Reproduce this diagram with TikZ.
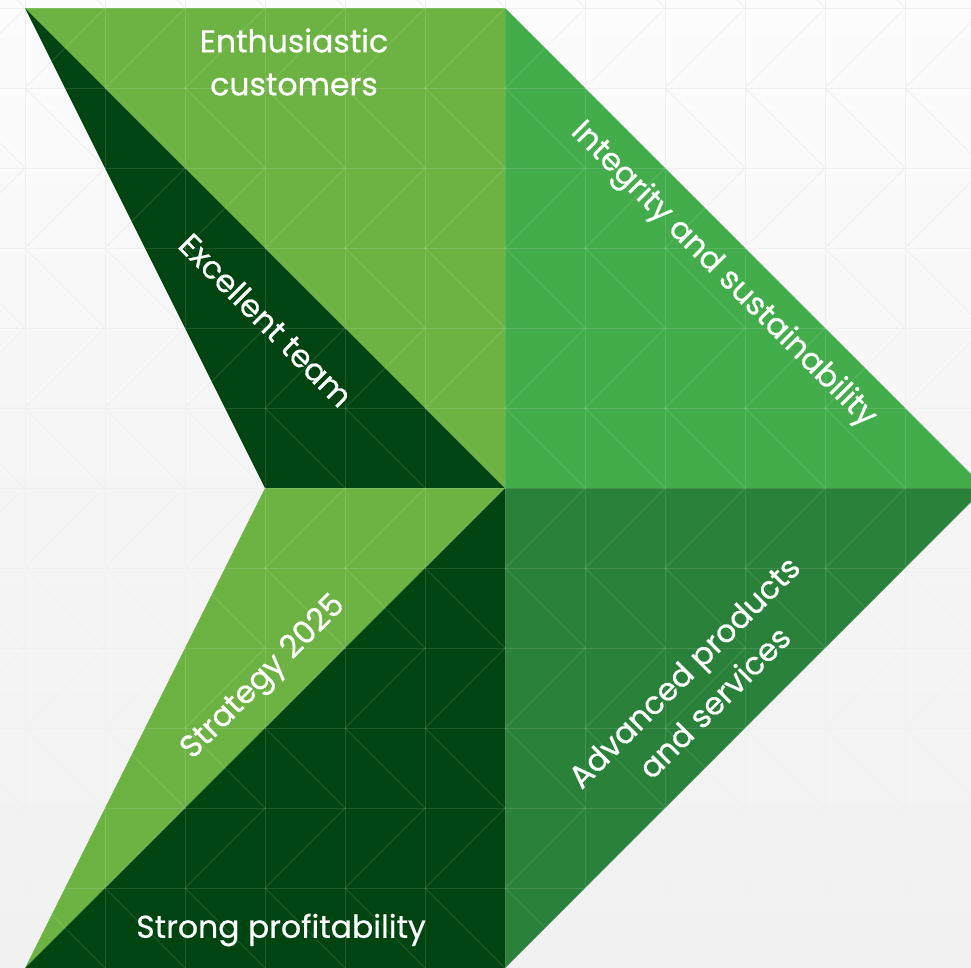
\documentclass[tikz,border=0pt]{standalone}
\usepackage{fontspec}
\usepackage{xcolor}
\usepackage{tikz}
\usetikzlibrary{positioning,calc}
\newfontfamily\lblfont{Poppins}[FakeBold=0.6]

\definecolor{leafgreen}{HTML}{6DB344}
\definecolor{fieldgreen}{HTML}{42AD4A}
\definecolor{forestgreen}{HTML}{2A8139}
\definecolor{deepgreen}{HTML}{004411}
\definecolor{paperlight}{HTML}{FCFCFC}
\definecolor{papergray}{HTML}{F1F1F1}

\tikzset{
  lbl/.style={text=white, font=\lblfont\fontsize{31.5}{43}\selectfont, align=center, inner sep=0pt},
  gridline/.style={line width=1pt},
}

\begin{document}
\begin{tikzpicture}[x=1pt,y=-1pt]
\useasboundingbox (0,0) rectangle (971,967);
\clip (0,0) rectangle (971,967);

% ===== Background =====
\shade[top color=paperlight, bottom color=papergray, middle color=papergray!60!paperlight]
  (0,0) rectangle (971,967);

% Grid of squares with diagonals
\begin{scope}[gridline, draw=black!6]
  \foreach \k in {-1,...,12} {
    \draw (25+80*\k,-80) -- (25+80*\k,1000);
    \draw (-80,8+80*\k) -- (1000,8+80*\k);
  }
  \foreach \r in {-1,...,11} {
    \foreach \c in {-1,...,11} {
      \pgfmathsetmacro{\xpos}{25+80*\c}
      \pgfmathsetmacro{\ypos}{8+80*\r}
      \ifodd\r
        \draw (\xpos,\ypos) -- (\xpos+80,\ypos+80);
      \else
        \draw (\xpos,\ypos+80) -- (\xpos+80,\ypos);
      \fi
    }
  }
\end{scope}

% ===== Chevron =====
\coordinate (tl) at (25,8);
\coordinate (tm) at (505,8);
\coordinate (ctr) at (505,488);
\coordinate (notch) at (265,488);
\coordinate (tip) at (985,488);
\coordinate (bl) at (25,968);
\coordinate (bm) at (505,968);

\fill[leafgreen] (tl) -- (tm) -- (ctr) -- cycle;
\fill[deepgreen] (tl) -- (ctr) -- (notch) -- cycle;
\fill[fieldgreen] (tm) -- (tip) -- (ctr) -- cycle;
\fill[forestgreen] (ctr) -- (tip) -- (bm) -- cycle;
\fill[leafgreen] (notch) -- (ctr) -- (bl) -- cycle;
\fill[deepgreen] (ctr) -- (bm) -- (bl) -- cycle;

% Grid shows through the green
\begin{scope}
  \clip (tl) -- (tm) -- (tip) -- (bm) -- (bl) -- (notch) -- cycle;
  \begin{scope}[gridline, draw=white, draw opacity=0.12]
    \foreach \k in {-1,...,12} {
      \draw (25+80*\k,-80) -- (25+80*\k,1000);
      \draw (-80,8+80*\k) -- (1000,8+80*\k);
    }
    \foreach \r in {-1,...,11} {
      \foreach \c in {-1,...,11} {
        \pgfmathsetmacro{\xpos}{25+80*\c}
        \pgfmathsetmacro{\ypos}{8+80*\r}
        \ifodd\r
          \draw (\xpos,\ypos) -- (\xpos+80,\ypos+80);
        \else
          \draw (\xpos,\ypos+80) -- (\xpos+80,\ypos);
        \fi
      }
    }
  \end{scope}
\end{scope}

% Labels
\node[lbl] (customers) at (294,62) {Enthusiastic\\customers};
\node[lbl, rotate=-45] (team) at (266,320) {Excellent team};
\node[lbl, rotate=-45] (integrity) at (723,275) {Integrity and sustainability};
\node[lbl, rotate=45] (strategy) at (264,678) {Strategy 2025};
\node[lbl, rotate=45] (products) at (699,687) {Advanced products\\and services};
\node[lbl] (profit) at (281,930) {Strong profitability};

\end{tikzpicture}
\end{document}
